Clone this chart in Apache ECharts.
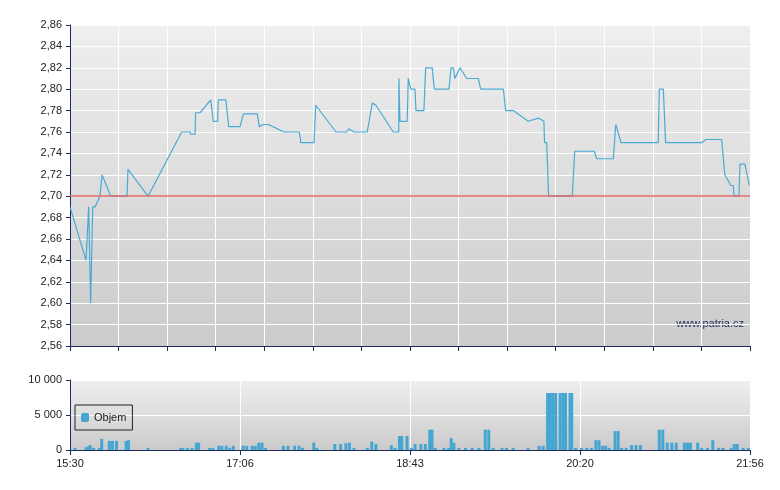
<!DOCTYPE html>
<html><head><meta charset="utf-8">
<script src="https://cdn.jsdelivr.net/npm/echarts@6/dist/echarts.min.js"></script>
<style>html,body{margin:0;padding:0;background:#fff}#c{width:780px;height:490px}</style>
</head><body><div id="c"></div>
<script>
// minutes after 15:30
const priceTimes=[0,0.6,9.1,10.6,11.7,12.9,14.2,17.0,18.2,23.1,32.4,32.9,44.3,63.4,68.1,68.5,71.0,71.3,73.8,79.9,81.3,83.8,84.2,88.5,90.1,96.5,98.4,106.3,107.4,109.7,112.6,121.5,130.2,131.0,138.5,139.5,151.0,157.1,158.2,161.2,168.7,171.6,173.7,183.5,186.6,186.7,187.3,191.4,192.0,193.4,195.8,196.4,200.9,201.9,205.6,206.8,215.1,216.3,217.6,218.5,221.4,225.2,231.8,233.1,246.0,247.3,251.6,260.1,265.8,269.0,269.4,270.6,271.7,285.1,286.5,297.6,299.0,308.4,309.8,310.9,312.8,333.9,334.5,336.8,338.1,358.5,361.0,369.9,371.7,375.1,376.5,377.0,379.7,380.3,383.1,385.6];
const priceValues=[2.69,2.69,2.64,2.69,2.60,2.69,2.69,2.70,2.72,2.70,2.70,2.725,2.70,2.76,2.76,2.758,2.758,2.778,2.778,2.79,2.77,2.77,2.79,2.79,2.765,2.765,2.777,2.777,2.765,2.767,2.767,2.76,2.76,2.75,2.75,2.785,2.76,2.76,2.763,2.76,2.76,2.787,2.785,2.76,2.76,2.81,2.77,2.77,2.81,2.80,2.80,2.78,2.78,2.82,2.82,2.80,2.80,2.82,2.82,2.81,2.82,2.81,2.81,2.80,2.80,2.78,2.78,2.77,2.773,2.77,2.75,2.75,2.70,2.70,2.742,2.742,2.735,2.735,2.767,2.767,2.75,2.75,2.80,2.80,2.75,2.75,2.753,2.753,2.72,2.71,2.71,2.70,2.70,2.73,2.73,2.71];
const volTimes=[2.8,9.1,10.4,11.4,13.4,16.7,18.0,22.3,24.1,26.4,31.9,33.2,44.3,62.8,64.1,66.6,69.2,71.7,73.0,79.3,81.1,84.4,86.2,88.7,90.7,92.7,98.3,100.3,103.4,105.2,107.2,109.0,111.0,121.1,123.7,127.5,130.0,132.0,138.4,140.1,150.3,153.6,156.6,158.6,161.2,168.8,171.3,173.6,182.4,184.5,187.0,188.3,191.3,193.9,195.9,199.2,201.7,204.2,205.5,207.3,212.3,214.9,216.4,217.9,220.7,224.5,228.3,232.1,235.7,237.7,240.2,245.3,247.8,251.6,260.0,266.3,268.6,271.1,272.7,274.2,275.7,278.2,279.8,281.3,283.8,284.8,287.1,290.4,293.4,296.0,298.5,300.3,302.3,304.1,306.1,309.4,311.2,313.2,315.7,318.8,321.3,323.8,334.5,336.5,339.0,341.6,344.1,348.7,350.5,352.2,356.3,358.6,361.9,364.9,368.2,370.7,375.3,377.1,378.8,382.1,385];
const volValues=[300,400,500,700,300,300,1600,1300,1300,1300,1300,1400,300,300,300,300,300,1050,1050,300,300,600,600,600,300,600,600,600,600,600,1050,1050,300,600,600,600,600,300,1050,300,850,850,950,1050,300,300,1200,850,700,300,2000,2000,2000,300,850,850,850,2900,2900,300,300,300,1700,1050,300,300,300,300,2900,2900,300,300,300,300,300,600,600,8150,8150,8150,8150,8150,8150,8150,8150,8150,300,300,300,300,1400,1400,600,600,300,2700,2700,300,300,700,700,700,2900,2900,1050,1050,1050,1050,1050,1050,1050,300,300,1400,300,300,300,850,850,300,300];
const xLabels=['15:30','17:06','18:43','20:20','21:56'];
const yPriceMin=2.56,yPriceMax=2.86,refPrice=2.70;

const navy='#1c2b5e';
const bg={type:'linear',x:0,y:0,x2:0,y2:1,colorStops:[{offset:0,color:'#efefef'},{offset:1,color:'#cbcbcb'}]};
const chart=echarts.init(document.getElementById('c'));
const axLine={lineStyle:{color:navy,width:1}};
chart.setOption({
  animation:false,
  grid:[{left:70,right:30,top:25,height:321,show:true,backgroundColor:bg,borderWidth:0},
        {left:70,right:30,top:380,height:70,show:true,backgroundColor:bg,borderWidth:0}],
  legend:{data:['Objem'],left:75,top:405,orient:'vertical',borderColor:'#222',borderWidth:1,padding:[7,6,7,6],
    itemWidth:8,itemHeight:9,itemGap:4,textStyle:{fontSize:11,color:'#222',fontFamily:'Arial, Liberation Sans'},backgroundColor:'transparent'},
  xAxis:[{type:'value',gridIndex:0,min:0,max:386,interval:386/14,axisLabel:{show:false},
          axisLine:{show:true,onZero:false,lineStyle:{color:navy}},axisTick:{show:true,length:5,lineStyle:{color:navy}},
          splitLine:{show:true,lineStyle:{color:'#fff',width:1}}},
         {type:'value',gridIndex:1,min:0,max:386,interval:96.5,
          axisLabel:{color:'#222',fontSize:11,fontFamily:'Arial, Liberation Sans',formatter:v=>xLabels[Math.round(v/96.5)]||''},
          axisLine:{show:true,onZero:false,lineStyle:{color:navy}},axisTick:{show:true,length:5,lineStyle:{color:navy}},
          splitLine:{show:true,lineStyle:{color:'#fff'}}}],
  yAxis:[{type:'value',gridIndex:0,min:yPriceMin,max:yPriceMax,interval:0.02,
          axisLabel:{color:'#222',fontSize:11,fontFamily:'Arial, Liberation Sans',formatter:v=>v.toFixed(2).replace('.',',')},
          axisLine:{show:true,lineStyle:{color:navy}},axisTick:{show:true,length:4,lineStyle:{color:navy}},
          splitLine:{lineStyle:{color:'#fff'}}},
         {type:'value',gridIndex:1,min:0,max:10000,interval:5000,
          axisLabel:{color:'#222',fontSize:11,fontFamily:'Arial, Liberation Sans',formatter:v=>v===10000?'10 000':v===5000?'5 000':'0'},
          axisLine:{show:true,lineStyle:{color:navy}},axisTick:{show:true,length:4,lineStyle:{color:navy}},
          splitLine:{lineStyle:{color:'#fff'}}}],
  graphic:[{type:'text',right:36,top:318,style:{text:'www.patria.cz',fontSize:11,fill:'#1c2b5e',fontFamily:'Arial, Liberation Sans'}}],
  series:[
    {type:'line',name:'Cena',xAxisIndex:0,yAxisIndex:0,data:priceTimes.map((t,i)=>[t,priceValues[i]]),
     showSymbol:false,lineStyle:{color:'#4aaad4',width:1.2},
     markLine:{silent:true,symbol:'none',label:{show:false},lineStyle:{color:'#e06666',width:1.5,type:'solid'},data:[{yAxis:refPrice}]}},
    {type:'bar',name:'Objem',xAxisIndex:1,yAxisIndex:1,data:volTimes.map((t,i)=>[t,volValues[i]]),
     barWidth:3,itemStyle:{color:'#47a6d1',borderColor:'#2a3a6a',borderWidth:0}}
  ]
});
</script></body></html>
